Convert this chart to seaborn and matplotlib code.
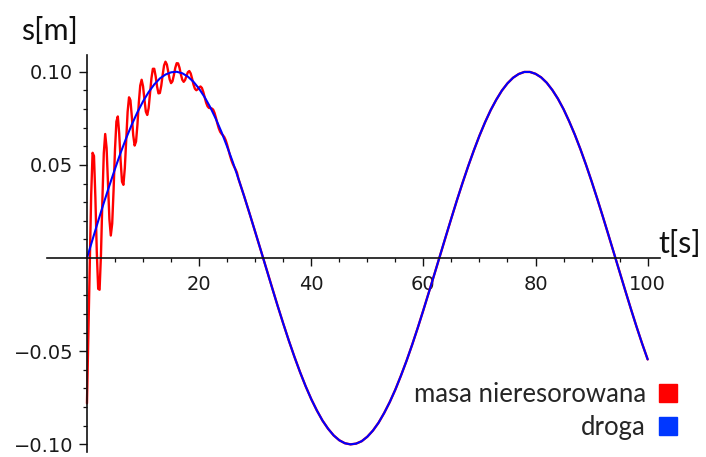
import numpy as np
import pandas as pd
import matplotlib
matplotlib.use("Agg")
import matplotlib.pyplot as plt
from matplotlib.ticker import FixedLocator, FuncFormatter
from matplotlib.lines import Line2D
import seaborn as sns

# Road profile ("droga"), sampled every 1 s from 0 to 100 s
t_road = list(range(0, 101))
s_road = [
    0.0000, 0.0100, 0.0199, 0.0296, 0.0389, 0.0479, 0.0565, 0.0644, 0.0717, 0.0783,
    0.0841, 0.0891, 0.0932, 0.0964, 0.0985, 0.0997, 0.1000, 0.0992, 0.0974, 0.0946,
    0.0909, 0.0863, 0.0809, 0.0746, 0.0676, 0.0598, 0.0516, 0.0427, 0.0335, 0.0239,
    0.0141, 0.0042, -0.0058, -0.0158, -0.0256, -0.0351, -0.0443, -0.0530, -0.0612, -0.0688,
    -0.0757, -0.0818, -0.0872, -0.0916, -0.0952, -0.0978, -0.0994, -0.1000, -0.0996, -0.0983,
    -0.0959, -0.0926, -0.0884, -0.0832, -0.0773, -0.0706, -0.0631, -0.0551, -0.0465, -0.0374,
    -0.0279, -0.0182, -0.0083, 0.0017, 0.0117, 0.0215, 0.0312, 0.0405, 0.0494, 0.0578,
    0.0657, 0.0729, 0.0794, 0.0850, 0.0899, 0.0938, 0.0968, 0.0988, 0.0999, 0.0999,
    0.0989, 0.0970, 0.0941, 0.0902, 0.0855, 0.0799, 0.0734, 0.0663, 0.0585, 0.0501,
    0.0412, 0.0319, 0.0223, 0.0125, 0.0025, -0.0075, -0.0174, -0.0272, -0.0367, -0.0458,
    -0.0544,
]

# Unsprung mass ("masa nieresorowana") during the transient, every 0.25 s up to 26.75 s
t_mass_start = list(np.arange(0.0, 27.0, 0.25))
s_mass_start = [
    -0.0780, -0.0405, -0.0045, 0.0338, 0.0565, 0.0548, 0.0325, 0.0034,
    -0.0165, -0.0170, 0.0022, 0.0313, 0.0563, 0.0666, 0.0591, 0.0402,
    0.0209, 0.0121, 0.0185, 0.0368, 0.0584, 0.0733, 0.0760, 0.0668,
    0.0523, 0.0410, 0.0393, 0.0483, 0.0637, 0.0785, 0.0863, 0.0847,
    0.0760, 0.0659, 0.0604, 0.0625, 0.0716, 0.0835, 0.0926, 0.0957,
    0.0922, 0.0851, 0.0786, 0.0768, 0.0805, 0.0883, 0.0965, 0.1016,
    0.1016, 0.0976, 0.0921, 0.0884, 0.0886, 0.0925, 0.0984, 0.1034,
    0.1054, 0.1039, 0.1000, 0.0959, 0.0939, 0.0949, 0.0982, 0.1021,
    0.1046, 0.1045, 0.1022, 0.0986, 0.0957, 0.0946, 0.0956, 0.0978,
    0.0998, 0.1004, 0.0991, 0.0963, 0.0931, 0.0909, 0.0901, 0.0906,
    0.0916, 0.0921, 0.0913, 0.0891, 0.0862, 0.0834, 0.0815, 0.0806,
    0.0805, 0.0803, 0.0797, 0.0779, 0.0753, 0.0723, 0.0697, 0.0678,
    0.0667, 0.0659, 0.0649, 0.0632, 0.0608, 0.0579, 0.0551, 0.0526,
    0.0506, 0.0490, 0.0476, 0.0459,
]

labels = ["masa nieresorowana", "droga"]
colors = ["#ff0000", "#0000ff"]
legend_colors = ["#ff0000", "#0037ff"]

x_major = [20, 40, 60, 80, 100]
x_minor = [5, 10, 15, 25, 30, 35, 45, 50, 55, 65, 70, 75, 85, 90, 95]
y_major = [-0.10, -0.05, 0.05, 0.10]
y_minor = [-0.09, -0.08, -0.07, -0.06, -0.04, -0.03, -0.02, -0.01,
           0.01, 0.02, 0.03, 0.04, 0.06, 0.07, 0.08, 0.09]

# After the transient the mass follows the road
mass = pd.DataFrame({"t": t_mass_start + t_road[27:],
                     "s": s_mass_start + s_road[27:]})
road = pd.DataFrame({"t": t_road, "s": s_road})

sns.set_style("white")
plt.rcParams["font.family"] = ["DejaVu Sans"]
plt.rcParams["axes.unicode_minus"] = True

W, H = 706, 457
fig = plt.figure(figsize=(W / 100, H / 100), dpi=100)
x0, x1, y0, y1 = 46.6, 660.0, 55.0, 452.0
ax = fig.add_axes([x0 / W, 1 - y1 / H, (x1 - x0) / W, (y1 - y0) / H])
ax.set_facecolor("white")

sns.lineplot(data=mass, x="t", y="s", ax=ax, color=colors[0], lw=1.7,
             estimator=None, sort=False)
sns.lineplot(data=road, x="t", y="s", ax=ax, color=colors[1], lw=1.5,
             estimator=None, sort=False)

ax.set_xlim(-7.2, 102.2)
ax.set_ylim(-0.1041, 0.109)
ax.set_xlabel("")
ax.set_ylabel("")

for side in ("top", "right"):
    ax.spines[side].set_visible(False)
ax.spines["left"].set_position(("data", 0))
ax.spines["bottom"].set_position(("data", 0))
for side in ("left", "bottom"):
    ax.spines[side].set_color("#111111")
    ax.spines[side].set_linewidth(1.2)

ax.xaxis.set_major_locator(FixedLocator(x_major))
ax.xaxis.set_minor_locator(FixedLocator(x_minor))
ax.yaxis.set_major_locator(FixedLocator(y_major))
ax.yaxis.set_minor_locator(FixedLocator(y_minor))
ax.yaxis.set_major_formatter(
    FuncFormatter(lambda v, _: f"{v:.2f}".replace("-", "\u2212")))
ax.tick_params(axis="both", which="major", direction="out", length=5.5, width=1.0,
               color="#111111", labelsize=14, labelcolor="#1a1a1a", pad=4.5)
ax.tick_params(axis="x", which="major", pad=7.0)
ax.tick_params(axis="both", which="minor", direction="out", length=3.2, width=0.9,
               color="#111111")
ax.tick_params(axis="x", which="both", bottom=True)
ax.tick_params(axis="y", which="both", left=True)

fig.text(49.5 / W, 1 - 31 / H, "s[m]", family="Lato", fontsize=22,
         ha="center", va="center", color="#111111")
fig.text(680 / W, 1 - 244 / H, "t[s]", family="Lato", fontsize=22,
         ha="center", va="center", color="#111111")

handles = [Line2D([], [], ls="none", marker="s", markersize=13,
                  markerfacecolor=c, markeredgecolor=c) for c in legend_colors]
ax.legend(handles, labels, loc="lower right",
          bbox_to_anchor=(678 / W, 1 - 440 / H), bbox_transform=fig.transFigure,
          markerfirst=False, frameon=False, prop={"family": "Lato", "size": 18.5},
          handlelength=0.8, handletextpad=0.45, labelspacing=0.3,
          borderpad=0, borderaxespad=0)

fig.savefig("out.png", dpi=100, facecolor="white")
